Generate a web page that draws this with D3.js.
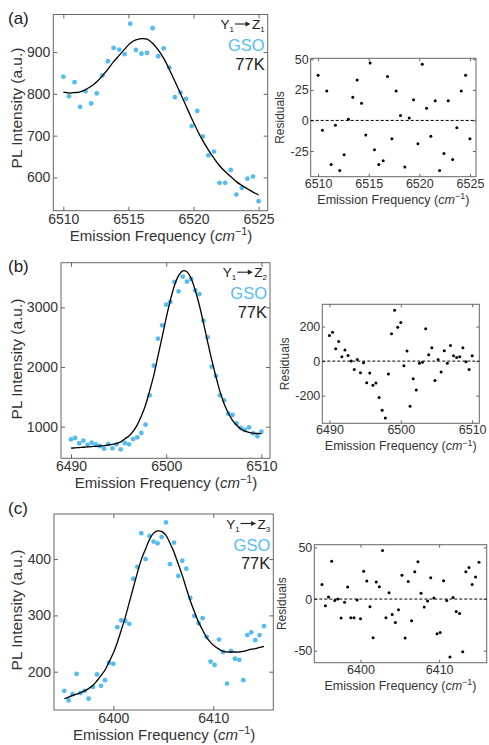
<!DOCTYPE html>
<html><head><meta charset="utf-8">
<script src="https://cdn.jsdelivr.net/npm/d3@7"></script>
<style>
body{margin:0;background:#fff;}
svg{display:block;font-family:"Liberation Sans",Arial,Helvetica,sans-serif;}
</style>
</head><body>
<svg id="chart" width="489" height="745"></svg>
<script>
// ---------- data ----------
const panelLabels = ["(a)", "(b)", "(c)"];
const transitionSubs = ["1", "2", "3"];
const sampleName = "GSO";
const tempLabel = "77K";

// (a) Y1 -> Z1
const aFreq = [6510.00,6510.43,6510.86,6511.29,6511.71,6512.14,6512.57,6513.00,6513.43,6513.86,6514.29,6514.71,6515.14,6515.57,6516.00,6516.43,6516.86,6517.29,6517.71,6518.14,6518.57,6519.00,6519.43,6519.86,6520.29,6520.71,6521.14,6521.57,6522.00,6522.43,6522.86,6523.29,6523.71,6524.14,6524.57,6525.00];
const aPL = [841,794,828,769,806,777,801,844,878,910,906,895,968,905,896,898,957,890,909,863,792,803,788,723,759,698,653,662,587,587,618,559,575,597,602,543];
const aFit = [804,802,803,805,810,818,829,843,859,877,892,907,921,929,932,931,921,905,885,859,830,801,771,741,713,688,666,646,628,614,602,590,581,573,565,558];
const aRes = [37,-8,24,-36,-4,-41,-28,1,19,33,14,-12,47,-24,-36,-33,36,-15,24,4,-38,2,17,-19,46,10,-13,16,-41,-27,16,-32,-6,24,37,-15];
const aXTicks = [6510,6515,6520,6525];
const aYTicks = [600,700,800,900];
const aResTicks = [-25,0,25,50];

// (b) Y1 -> Z2
const bFreq = [6490.00,6490.43,6490.87,6491.30,6491.74,6492.17,6492.61,6493.04,6493.48,6493.91,6494.35,6494.78,6495.22,6495.65,6496.09,6496.52,6496.96,6497.39,6497.83,6498.26,6498.70,6499.13,6499.57,6500.00,6500.43,6500.87,6501.30,6501.74,6502.17,6502.61,6503.04,6503.48,6503.91,6504.35,6504.78,6505.22,6505.65,6506.09,6506.52,6506.96,6507.39,6507.83,6508.26,6508.70,6509.13,6509.57,6510.00];
const bPL = [788,810,721,765,693,732,704,676,631,709,637,704,620,726,704,793,821,894,1034,1525,2022,2475,2698,3045,3089,3425,3268,3514,3430,3475,3285,3223,2777,2497,2006,1849,1525,1441,1218,1196,1056,978,944,989,888,838,916];
const bFit = [640,645,650,655,662,667,671,676,682,692,704,718,745,795,844,920,1031,1179,1363,1600,1864,2181,2502,2822,3116,3367,3530,3612,3597,3487,3291,3035,2740,2420,2118,1839,1588,1381,1230,1106,1025,960,925,905,892,886,885];
const bRes = [148,167,71,113,25,65,33,0,-48,10,-67,-10,-125,-69,-140,-127,-210,-285,-329,-75,158,294,196,223,-27,58,-262,-102,-167,-12,-6,188,37,77,-112,10,-63,60,-12,90,31,21,25,77,-4,-48,31];
const bXTicks = [6490,6500,6510];
const bYTicks = [1000,2000,3000];
const bResTicks = [-200,0,200];

// (c) Y1 -> Z3
const cFreq = [6395.10,6395.53,6395.93,6396.33,6396.73,6397.13,6397.53,6397.97,6398.37,6398.77,6399.17,6399.57,6400.00,6400.40,6400.80,6401.20,6401.60,6402.00,6402.40,6402.80,6403.23,6403.63,6404.03,6404.43,6404.83,6405.27,6405.67,6406.07,6406.50,6406.90,6407.30,6407.70,6408.10,6408.53,6408.93,6409.33,6409.73,6410.13,6410.57,6410.97,6411.37,6411.77,6412.17,6412.60,6413.00,6413.40,6413.80,6414.20,6414.63,6415.07];
const cPL = [166,149,160,196,162,166,152,173,195,175,185,216,214,279,291,290,285,365,386,446,400,441,431,428,439,465,391,429,370,397,383,331,299,286,295,262,218,212,257,235,179,237,223,221,185,265,270,256,265,281];
const cFit = [152,155,158,160,163,166,170,176,184,193,203,217,233,252,274,297,323,349,375,399,418,435,446,450,449,442,428,412,391,371,348,326,307,288,274,261,252,245,240,236,235,235,235,235,236,238,240,241,243,245];
const cRes = [14,-6.5,2,36.5,-1.3,0,-18.4,-3,11.6,-18,-18,-1,-19,27,17.4,-7.4,-37.4,16.5,12,47,-18,6,-15,-22.6,-10.3,23,-37.7,17,-21,26.5,36,5.5,-7.7,-2,20.6,1,-33.5,-32.3,17.7,-1.3,-56,1.6,-12,-14,-51,26.5,30.6,14.2,21.3,35.5];
const cXTicks = [6400,6410];
const cYTicks = [200,300,400];
const cResTicks = [-50,0,50];

// ---------- layout ----------
const panels = [
  {label: panelLabels[0], sub: transitionSubs[0], freq: aFreq, pl: aPL, fit: aFit, res: aRes,
   xTicks: aXTicks, yTicks: aYTicks, resTicks: aResTicks,
   main: {l: 53.3, r: 267.7, t: 14.5, b: 210.7}, xDom: [6509.23, 6525.7], yDom: [520.4, 989.9],
   rbox: {l: 310.7, r: 476, t: 58.3, b: 176.7}, rxDom: [6509.27, 6525.6], ryDom: [-46, 50.8],
   labelY: 23.5, resLabelX: 284, yTitleY: 108},
  {label: panelLabels[1], sub: transitionSubs[1], freq: bFreq, pl: bPL, fit: bFit, res: bRes,
   xTicks: bXTicks, yTicks: bYTicks, resTicks: bResTicks,
   main: {l: 61, r: 270, t: 262.7, b: 458.3}, xDom: [6488.95, 6510.9], yDom: [470, 3748],
   rbox: {l: 322.3, r: 479.3, t: 304.3, b: 423.3}, rxDom: [6489.0, 6511.0], ryDom: [-360, 329],
   labelY: 272, resLabelX: 289, yTitleY: 359},
  {label: panelLabels[2], sub: transitionSubs[2], freq: cFreq, pl: cPL, fit: cFit, res: cRes,
   xTicks: cXTicks, yTicks: cYTicks, resTicks: cResTicks,
   main: {l: 54, r: 273.3, t: 514, b: 710}, xDom: [6394.07, 6416.0], yDom: [132, 480],
   rbox: {l: 314.3, r: 486.7, t: 544.7, b: 662.7}, rxDom: [6394.12, 6416.05], ryDom: [-61.6, 52.6],
   labelY: 514, resLabelX: 286, yTitleY: 610}
];

const dotColor = "#55bdee";
const frameColor = "#666";
const textColor = "#333";

const svg = d3.select("#chart");

function frameAxes(g, box, x, y, xTicks, yTicks, opts) {
  const tl = opts.tick;
  g.append("g").attr("transform", `translate(0,${box.b})`)
    .call(d3.axisBottom(x).tickValues(xTicks).tickSizeInner(-tl).tickSizeOuter(0).tickPadding(opts.xPad).tickFormat(d3.format("d")))
    .call(s => { s.select(".domain").remove(); s.selectAll("text").attr("font-size", opts.fs).attr("fill", textColor).attr("font-family", null); s.selectAll("line").attr("stroke", frameColor); });
  g.append("g").attr("transform", `translate(0,${box.t})`)
    .call(d3.axisTop(x).tickValues(xTicks).tickSizeInner(-tl).tickSizeOuter(0).tickFormat(""))
    .call(s => { s.select(".domain").remove(); s.selectAll("line").attr("stroke", frameColor); });
  g.append("g").attr("transform", `translate(${box.l},0)`)
    .call(d3.axisLeft(y).tickValues(yTicks).tickSizeInner(-tl).tickSizeOuter(0).tickPadding(opts.yPad).tickFormat(d3.format("d")))
    .call(s => { s.select(".domain").remove(); s.selectAll("text").attr("font-size", opts.fs).attr("fill", textColor).attr("font-family", null).text(d => d < 0 ? "-" + Math.abs(d) : d); s.selectAll("line").attr("stroke", frameColor); });
  g.append("g").attr("transform", `translate(${box.r},0)`)
    .call(d3.axisRight(y).tickValues(yTicks).tickSizeInner(-tl).tickSizeOuter(0).tickFormat(""))
    .call(s => { s.select(".domain").remove(); s.selectAll("line").attr("stroke", frameColor); });
  g.append("rect").attr("x", box.l).attr("y", box.t).attr("width", box.r - box.l).attr("height", box.b - box.t)
    .attr("fill", "none").attr("stroke", frameColor).attr("stroke-width", 1);
}

function xTitle(g, cx, y, fs) {
  const t = g.append("text").attr("x", cx).attr("y", y).attr("text-anchor", "middle")
    .attr("font-size", fs).attr("fill", textColor);
  t.append("tspan").text("Emission Frequency (");
  t.append("tspan").attr("font-style", "italic").text("cm");
  t.append("tspan").attr("font-size", fs * 0.72).attr("dy", -fs * 0.38).text("\u22121");
  t.append("tspan").attr("dy", fs * 0.38).text(")");
}

function legendLine(g, right, base, sub) {
  const fs = 13.5;
  // Z with subscript, right-aligned
  const z = g.append("text").attr("y", base).attr("font-size", fs).attr("fill", "#222");
  z.append("tspan").text("Z");
  z.append("tspan").attr("font-size", 8).attr("dy", 3).text(sub);
  const zw = z.node().getComputedTextLength();
  const zx = right - zw;
  z.attr("x", zx);
  // arrow
  const ax2 = zx - 1.5, ax1 = ax2 - 15.5, ay = base - 5;
  g.append("line").attr("x1", ax1).attr("x2", ax2 - 4).attr("y1", ay).attr("y2", ay)
    .attr("stroke", "#222").attr("stroke-width", 1.1);
  g.append("path").attr("d", `M${ax2},${ay} L${ax2 - 5},${ay - 2.6} L${ax2 - 5},${ay + 2.6} Z`).attr("fill", "#222");
  // Y with subscript
  const yv = g.append("text").attr("y", base).attr("font-size", fs).attr("fill", "#222");
  yv.append("tspan").text("Y");
  yv.append("tspan").attr("font-size", 8).attr("dy", 3).text("1");
  const yw = yv.node().getComputedTextLength();
  yv.attr("x", ax1 - 1 - yw);
}

panels.forEach(p => {
  const g = svg.append("g");
  const m = p.main;
  const x = d3.scaleLinear().domain(p.xDom).range([m.l, m.r]);
  const y = d3.scaleLinear().domain(p.yDom).range([m.b, m.t]);

  frameAxes(g, m, x, y, p.xTicks, p.yTicks, {tick: 4, fs: 14, xPad: 3, yPad: 3});

  g.append("g").selectAll("circle").data(p.freq).join("circle")
    .attr("cx", (d) => x(d)).attr("cy", (d, i) => y(p.pl[i])).attr("r", 2.4)
    .attr("fill", dotColor);

  const line = d3.line().x((d, i) => x(p.freq[i])).y(d => y(d)).curve(d3.curveCatmullRom);
  g.append("path").datum(p.fit).attr("d", line).attr("fill", "none")
    .attr("stroke", "#000").attr("stroke-width", 1.3);

  const lx = m.r - 3;
  legendLine(g, lx, m.t + 14.5, p.sub);
  g.append("text").attr("x", lx).attr("y", m.t + 36.5).attr("text-anchor", "end")
    .attr("font-size", 16.5).attr("fill", dotColor).text(sampleName);
  g.append("text").attr("x", lx).attr("y", m.t + 55.2).attr("text-anchor", "end")
    .attr("font-size", 16.5).attr("fill", "#222").text(tempLabel);

  xTitle(g, (m.l + m.r) / 2 + 0.5, m.b + 30, 15);
  g.append("text").attr("transform", `translate(21.5,${p.yTitleY}) rotate(-90)`)
    .attr("text-anchor", "middle").attr("font-size", 15.5).attr("fill", textColor)
    .text("PL Intensity (a.u.)");
  g.append("text").attr("x", 8).attr("y", p.labelY).attr("font-size", 17).attr("fill", "#222").text(p.label);

  const r = p.rbox;
  const rx = d3.scaleLinear().domain(p.rxDom).range([r.l, r.r]);
  const ry = d3.scaleLinear().domain(p.ryDom).range([r.b, r.t]);
  frameAxes(g, r, rx, ry, p.xTicks, p.resTicks, {tick: 3, fs: 12.5, xPad: 2, yPad: 2});
  g.append("line").attr("x1", r.l).attr("x2", r.r).attr("y1", ry(0)).attr("y2", ry(0))
    .attr("stroke", "#000").attr("stroke-width", 1).attr("stroke-dasharray", "3,2");
  g.append("g").selectAll("circle").data(p.freq).join("circle")
    .attr("cx", d => rx(d)).attr("cy", (d, i) => ry(p.res[i])).attr("r", 1.5).attr("fill", "#000");
  xTitle(g, (r.l + r.r) / 2, r.b + 27, 12.5);
  g.append("text").attr("transform", `translate(${p.resLabelX},${(r.t + r.b) / 2}) rotate(-90)`)
    .attr("text-anchor", "middle").attr("font-size", 12).attr("fill", textColor).text("Residuals");
});
</script>
</body></html>
